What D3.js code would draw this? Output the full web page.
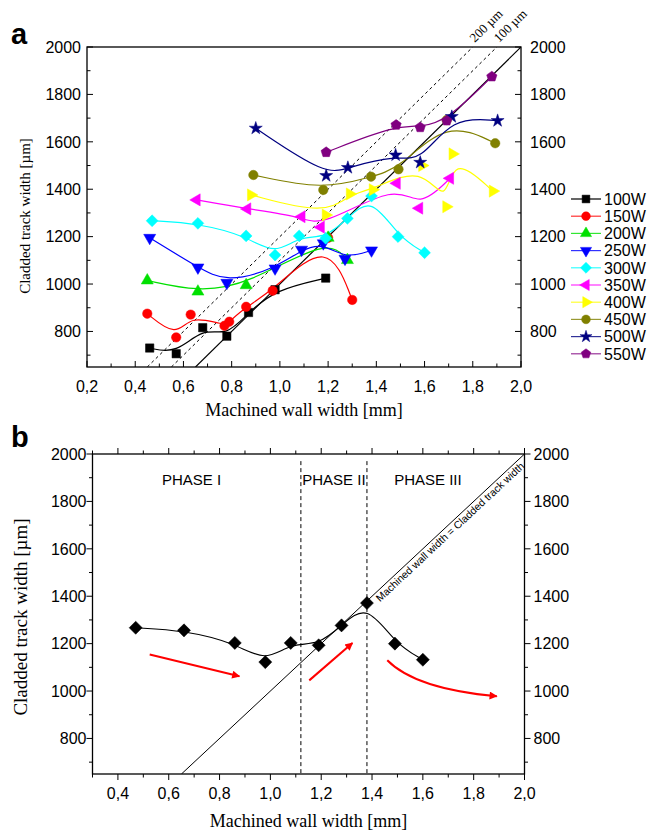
<!DOCTYPE html>
<meta charset="utf-8">
<title>Cladded track width vs machined wall width</title>
<style>
  body { margin: 0; background: #fff; }
  svg text { fill: #000; }
  .tick-lbl { font-family: "Liberation Sans", Arial, sans-serif; font-size: 16px; }
  .title { font-family: "Liberation Serif", "Times New Roman", serif; }
</style>
<body>
<svg width="647" height="832"></svg>
<script src="https://d3js.org/d3.v7.min.js"></script>
<script>
// ---- data ----
var series = ["100W", "150W", "200W", "250W", "300W", "350W", "400W", "450W", "500W", "550W"];
var colors = ["#000000", "#ff0000", "#00e000", "#0000ff", "#00ffff", "#ff00ff", "#ffff00", "#808000", "#000080", "#800080"];
var shapes = ["square", "circle", "up", "down", "diamond", "left", "right", "circle", "star", "pentagon"];

var w100 = [[0.46, 730], [0.57, 706], [0.68, 816], [0.78, 780], [0.87, 880], [0.98, 976], [1.19, 1025]];
var w150 = [[0.45, 875], [0.57, 775], [0.63, 871], [0.77, 824], [0.79, 841], [0.86, 904], [0.97, 972], [1.20, 1195], [1.30, 933]];
var w200 = [[0.45, 1015], [0.66, 968], [0.86, 995], [1.20, 1195], [1.28, 1101]];
var w250 = [[0.46, 1195], [0.66, 1070], [0.78, 1005], [0.98, 1066], [1.09, 1145], [1.18, 1172], [1.27, 1107], [1.38, 1142]];
var w300 = [[0.47, 1267], [0.66, 1256], [0.86, 1203], [0.98, 1122], [1.08, 1203], [1.19, 1193], [1.28, 1277], [1.38, 1371], [1.49, 1200], [1.60, 1132]];
var w350 = [[0.655, 1355], [0.865, 1317], [1.09, 1284], [1.17, 1240], [1.485, 1425], [1.578, 1320], [1.706, 1446]];
var w400 = [[0.88, 1376], [1.19, 1291], [1.29, 1380], [1.385, 1398], [1.59, 1500], [1.69, 1326], [1.716, 1549], [1.883, 1392]];
var w450 = [[0.89, 1460], [1.18, 1397], [1.378, 1453], [1.492, 1484], [1.692, 1692], [1.893, 1594]];
var w500 = [[0.90, 1657], [1.192, 1457], [1.282, 1491], [1.48, 1544], [1.582, 1513], [1.713, 1706], [1.903, 1689]];
var w550 = [[1.192, 1556], [1.482, 1671], [1.582, 1661], [1.692, 1689], [1.879, 1875]];
var allSeries = [w100, w150, w200, w250, w300, w350, w400, w450, w500, w550];

// offset reference lines (µm above equality line)
var offsets = [200, 100];
var offsetLabels = ["200 µm", "100 µm"];

// panel b: the 300W series, phase boundaries, trend arrows
var phaseBounds = [1.12, 1.38];
var phaseNames = ["PHASE I", "PHASE II", "PHASE III"];
var phaseLabelX = [0.69, 1.25, 1.62];
var arrows = [
  [[0.525, 1154], [0.878, 1062]],
  [[1.153, 1045], [1.323, 1203]],
  [[1.46, 1130], [1.571, 1009], [1.891, 978]]
];

var xTicks = [0.2, 0.4, 0.6, 0.8, 1.0, 1.2, 1.4, 1.6, 1.8, 2.0];
var yTicks = [800, 1000, 1200, 1400, 1600, 1800, 2000];

const svg = d3.select("svg");
const fmt = d => d3.format(".1f")(d).replace(".", ",");

// pentagon symbol
var symbolPentagon = {
  draw: function (ctx, size) {
    var r = Math.sqrt(size / 2.378);
    for (var i = 0; i < 5; i++) {
      var a = -Math.PI / 2 + i * 2 * Math.PI / 5;
      if (i == 0) ctx.moveTo(r * Math.cos(a), r * Math.sin(a));
      else ctx.lineTo(r * Math.cos(a), r * Math.sin(a));
    }
    ctx.closePath();
  }
};

function markerPath(shape, size) {
  var type = d3.symbolSquare, rot = 0;
  if (shape == "circle") type = d3.symbolCircle;
  if (shape == "up") { type = d3.symbolTriangle; }
  if (shape == "down") { type = d3.symbolTriangle; rot = 180; }
  if (shape == "left") { type = d3.symbolTriangle; rot = -90; }
  if (shape == "right") { type = d3.symbolTriangle; rot = 90; }
  if (shape == "diamond") { type = d3.symbolSquare; rot = 45; }
  if (shape == "star") type = d3.symbolStar;
  if (shape == "pentagon") type = symbolPentagon;
  var s = size;
  if (shape == "up" || shape == "down" || shape == "left" || shape == "right") s = size * 0.9;
  if (shape == "star") s = size * 0.75;
  return { d: d3.symbol().type(type).size(s)(), rot: rot };
}

function drawMarker(g, shape, color, x, y, size) {
  var m = markerPath(shape, size);
  g.append("path")
    .attr("d", m.d)
    .attr("transform", "translate(" + x + "," + y + ") rotate(" + m.rot + ")")
    .attr("fill", color)
    .attr("stroke", color)
    .attr("stroke-width", 0.5);
}

function drawAxes(g, x, y, xt, opts) {
  var x0 = x.range()[0], x1 = x.range()[1], y0 = y.range()[0], y1 = y.range()[1];
  var dir = opts.inward ? -1 : 1;
  var major = 6, minor = 3.5;
  // ticks along x
  var xd = x.domain();
  for (var v = Math.round(xd[0] * 10); v <= Math.round(xd[1] * 10); v++) {
    var isMaj = v % 2 == 0;
    var len = isMaj ? major : minor;
    var px = x(v / 10);
    g.append("line").attr("x1", px).attr("x2", px).attr("y1", y0).attr("y2", y0 + dir * len)
      .attr("stroke", "#000").attr("stroke-width", 1);
    if (opts.topTicks)
      g.append("line").attr("x1", px).attr("x2", px).attr("y1", y1).attr("y2", y1 - dir * len)
        .attr("stroke", "#000").attr("stroke-width", 1);
  }
  xt.forEach(function (t) {
    if (t < xd[0] - 1e-9) return;
    g.append("text").attr("class", "tick-lbl").attr("x", x(t)).attr("y", y0 + 25)
      .attr("text-anchor", "middle").text(fmt(t));
  });
  // ticks along y, both sides
  for (var w = 700; w <= 2000; w += 100) {
    var len2 = w % 200 == 0 ? major : minor;
    var py = y(w);
    g.append("line").attr("x1", x0).attr("x2", x0 - dir * len2).attr("y1", py).attr("y2", py)
      .attr("stroke", "#000").attr("stroke-width", 1);
    g.append("line").attr("x1", x1).attr("x2", x1 + dir * len2).attr("y1", py).attr("y2", py)
      .attr("stroke", "#000").attr("stroke-width", 1);
  }
  yTicks.forEach(function (t) {
    g.append("text").attr("class", "tick-lbl").attr("x", x0 - 6).attr("y", y(t)).attr("dy", "0.36em")
      .attr("text-anchor", "end").text(t);
    g.append("text").attr("class", "tick-lbl").attr("x", x1 + 9).attr("y", y(t)).attr("dy", "0.36em")
      .attr("text-anchor", "start").text(t);
  });
  // frame
  g.append("rect").attr("x", x0).attr("y", y1).attr("width", x1 - x0).attr("height", y0 - y1)
    .attr("fill", "none").attr("stroke", "#000").attr("stroke-width", 1.3);
}

// ================= panel a =================
var xa = d3.scaleLinear().domain([0.2, 2.0]).range([87, 521]);
var ya = d3.scaleLinear().domain([650, 2000]).range([367, 47]);
var ga = svg.append("g");

svg.append("defs").append("clipPath").attr("id", "clipA").append("rect")
  .attr("x", 87).attr("y", 47).attr("width", 434).attr("height", 320);
svg.select("defs").append("clipPath").attr("id", "clipB").append("rect")
  .attr("x", 92.5).attr("y", 454).attr("width", 432).attr("height", 320);

var plotA = ga.append("g").attr("clip-path", "url(#clipA)");

// equality line and offset dashed lines
plotA.append("line").attr("x1", xa(0.65)).attr("y1", ya(650)).attr("x2", xa(2.0)).attr("y2", ya(2000))
  .attr("stroke", "#000").attr("stroke-width", 1.2);
offsets.forEach(function (o) {
  plotA.append("line")
    .attr("x1", xa((650 - o) / 1000)).attr("y1", ya(650))
    .attr("x2", xa((2000 - o) / 1000)).attr("y2", ya(2000))
    .attr("stroke", "#000").attr("stroke-width", 1).attr("stroke-dasharray", "3,3");
});
offsets.forEach(function (o, i) {
  var px = xa((2000 - o) / 1000), py = ya(2000);
  var ang = -Math.atan2(ya(1000) - ya(2000), xa(1.0) - xa(0.0)) * 180 / Math.PI;
  ga.append("text").attr("class", "title").attr("font-size", 13)
    .attr("transform", "translate(" + (px + 2) + "," + (py - 4) + ") rotate(" + ang + ")")
    .text(offsetLabels[i]);
});

var line = d3.line().x(d => xa(d[0])).y(d => ya(d[1])).curve(d3.curveBasis);
allSeries.forEach(function (data, i) {
  plotA.append("path").datum(data).attr("d", line)
    .attr("fill", "none").attr("stroke", colors[i]).attr("stroke-width", 1.2);
});
allSeries.forEach(function (data, i) {
  data.forEach(function (d) {
    drawMarker(plotA, shapes[i], colors[i], xa(d[0]), ya(d[1]), 70);
  });
});

drawAxes(ga, xa, ya, xTicks, { inward: true, topTicks: false });

ga.append("text").attr("class", "title").attr("font-size", 18)
  .attr("x", (87 + 521) / 2).attr("y", 416).attr("text-anchor", "middle")
  .text("Machined wall width [mm]");
ga.append("text").attr("class", "title").attr("font-size", 15)
  .attr("transform", "translate(30,216) rotate(-90)").attr("text-anchor", "middle")
  .text("Cladded track width [µm]");
ga.append("text").attr("x", 11).attr("y", 44)
  .attr("font-family", "Liberation Sans, Arial, sans-serif").attr("font-weight", "bold").attr("font-size", 29)
  .text("a");

// legend
var leg = ga.append("g");
series.forEach(function (s, i) {
  var ly = 199 + i * 17.2;
  leg.append("line").attr("x1", 571).attr("x2", 601).attr("y1", ly).attr("y2", ly)
    .attr("stroke", i == 0 ? "#000" : colors[i]).attr("stroke-width", 1.2).attr("opacity", i == 0 ? 1 : 0.8);
  drawMarker(leg, shapes[i], colors[i], 586, ly, 60);
  leg.append("text").attr("class", "tick-lbl").attr("font-size", 13.5)
    .attr("x", 604).attr("y", ly).attr("dy", "0.36em").text(s);
});

// ================= panel b =================
var xb = d3.scaleLinear().domain([0.3, 2.0]).range([92.5, 524.5]);
var yb = d3.scaleLinear().domain([650, 2000]).range([774, 454]);
var gb = svg.append("g");
var plotB = gb.append("g").attr("clip-path", "url(#clipB)");

plotB.append("line").attr("x1", xb(0.65)).attr("y1", yb(650)).attr("x2", xb(2.0)).attr("y2", yb(2000))
  .attr("stroke", "#000").attr("stroke-width", 1);

phaseBounds.forEach(function (p) {
  plotB.append("line").attr("x1", xb(p)).attr("x2", xb(p)).attr("y1", yb(1970)).attr("y2", yb(650))
    .attr("stroke", "#000").attr("stroke-width", 1).attr("stroke-dasharray", "4,3");
});
phaseNames.forEach(function (n, i) {
  gb.append("text").attr("font-family", "Liberation Sans, Arial, sans-serif").attr("font-size", 15)
    .attr("fill", "#222").attr("x", xb(phaseLabelX[i])).attr("y", yb(1870)).attr("text-anchor", "middle")
    .text(n);
});

// diagonal annotation
var angB = -Math.atan2(yb(1000) - yb(2000), xb(1.0) - xb(0.0)) * 180 / Math.PI;
gb.append("text").attr("font-family", "Liberation Sans, Arial, sans-serif").attr("font-size", 10.5)
  .attr("fill", "#222")
  .attr("transform", "translate(" + (xb(1.4) + 8) + "," + (yb(1400) + 6) + ") rotate(" + angB + ")")
  .text("Machined wall width = Cladded track width");

var lineB = d3.line().x(d => xb(d[0])).y(d => yb(d[1])).curve(d3.curveBasis);
plotB.append("path").datum(w300).attr("d", lineB)
  .attr("fill", "none").attr("stroke", "#000").attr("stroke-width", 1.1);
w300.forEach(function (d) {
  drawMarker(plotB, "diamond", "#000", xb(d[0]), yb(d[1]), 85);
});

// red arrows
svg.select("defs").append("marker").attr("id", "arrowHead")
  .attr("viewBox", "0 0 10 10").attr("refX", 9).attr("refY", 5)
  .attr("markerWidth", 5).attr("markerHeight", 4).attr("orient", "auto")
  .append("path").attr("d", "M0,0 L10,5 L0,10 Z").attr("fill", "#ff0000");
arrows.forEach(function (a) {
  var d;
  if (a.length == 2) d = "M" + xb(a[0][0]) + "," + yb(a[0][1]) + "L" + xb(a[1][0]) + "," + yb(a[1][1]);
  else d = "M" + xb(a[0][0]) + "," + yb(a[0][1]) + "Q" + xb(a[1][0]) + "," + yb(a[1][1]) + " " + xb(a[2][0]) + "," + yb(a[2][1]);
  plotB.append("path").attr("d", d).attr("fill", "none").attr("stroke", "#ff0000")
    .attr("stroke-width", 2).attr("marker-end", "url(#arrowHead)");
});

drawAxes(gb, xb, yb, xTicks, { inward: false, topTicks: true });

gb.append("text").attr("class", "title").attr("font-size", 18)
  .attr("x", (92.5 + 524.5) / 2).attr("y", 827).attr("text-anchor", "middle")
  .text("Machined wall width [mm]");
gb.append("text").attr("class", "title").attr("font-size", 19)
  .attr("transform", "translate(27,617) rotate(-90)").attr("text-anchor", "middle")
  .text("Cladded track width [µm]");
gb.append("text").attr("x", 11).attr("y", 447)
  .attr("font-family", "Liberation Sans, Arial, sans-serif").attr("font-weight", "bold").attr("font-size", 29)
  .text("b");
</script>
</body>
